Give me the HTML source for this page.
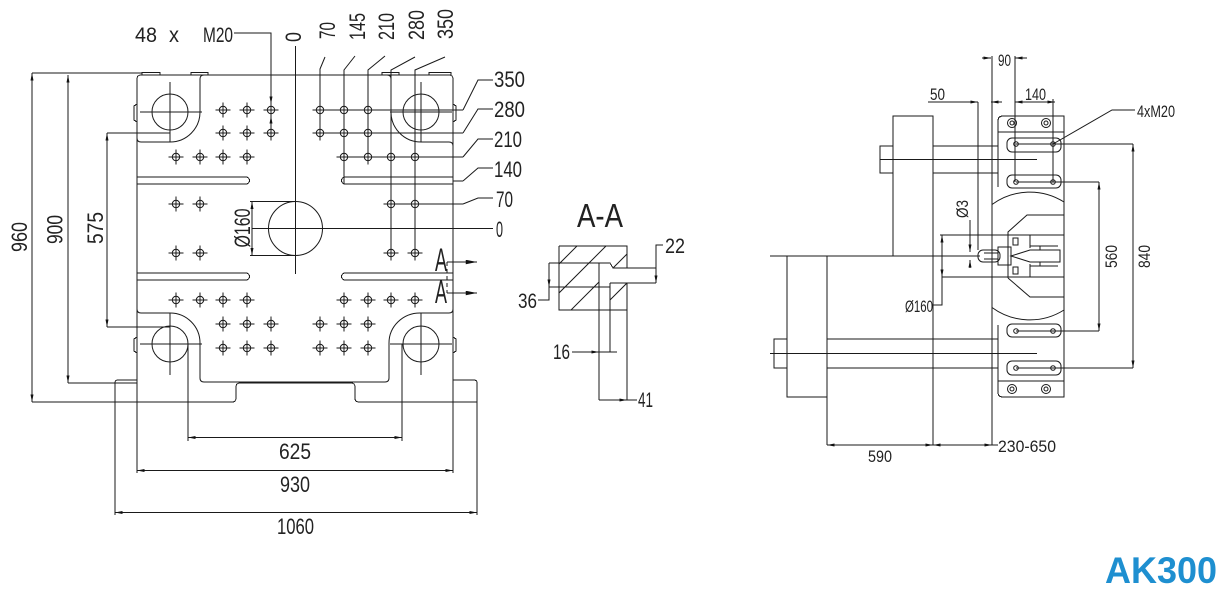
<!DOCTYPE html>
<html><head><meta charset="utf-8">
<style>
html,body{margin:0;padding:0;background:#fff;}
svg{display:block;}
text{font-family:"Liberation Sans",sans-serif;fill:#222;}
.cr path,.cr rect{shape-rendering:crispEdges;}
</style></head>
<body>
<svg width="1227" height="596" viewBox="0 0 1227 596" xmlns="http://www.w3.org/2000/svg">
<defs>
<marker id="m" viewBox="0 0 10 4" refX="10" refY="2" markerWidth="8" markerHeight="3" markerUnits="userSpaceOnUse" orient="auto-start-reverse"><path d="M0,0L10,2L0,4z" fill="#111" stroke="none"/></marker>
<marker id="M" viewBox="0 0 10 4" refX="10" refY="2" markerWidth="14" markerHeight="4.5" markerUnits="userSpaceOnUse" orient="auto"><path d="M0,0L10,2L0,4z" fill="#111" stroke="none"/></marker>
<g id="h"><circle r="3.7"/><path d="M-7.5,0H7.5M0,-7.5V7.5"/></g>
<clipPath id="hc"><path d="M559,246H627V268H613L610,263H599V310H559Z M610,283H627V310H610Z"/></clipPath>
</defs>
<rect width="1227" height="596" fill="#fff"/>

<g fill="none" stroke="#1a1a1a" stroke-width="1" class="cr">
<!-- ===== LEFT VIEW ===== -->
<path d="M137,473V79Q137,75 141,75H449Q453,75 453,79V473"/>
<path d="M32,73H142"/>
<path d="M142,75V72.5H160V75M191,75V72.5H208V75M382,75V72.5H399V75M429,75V72.5H451V75"/>
<path d="M137,138Q137,142 141,142H170A30,30 0 0 0 200,112V79Q200,75 204,75" style="shape-rendering:auto"/>
<path d="M387,75Q391,75 391,79V112A30,30 0 0 0 421,142H449Q453,142 453,146" style="shape-rendering:auto"/>
<path d="M137,309Q137,313 141,313H170A30,30 0 0 1 200,343V378Q200,382 204,382H385Q389,382 389,378V343A31,30 0 0 1 420,313H449Q453,313 453,309" style="shape-rendering:auto"/>
<path d="M137,104L134,106V120L137,122M137,337L134,339V351L137,353M453,104L456,106V120L453,122M453,337L456,339V351L453,353"/>
<path d="M137,177H246A3.5,3.5 0 0 1 246,184H137"/>
<path d="M453,177H345A3.5,3.5 0 0 0 345,184H453"/>
<path d="M137,273H246A3.5,3.5 0 0 1 246,280H137"/>
<path d="M453,273H345A3.5,3.5 0 0 0 345,280H453"/>
<circle cx="170" cy="112" r="18"/><circle cx="421" cy="112" r="18"/>
<circle cx="170" cy="344" r="18"/><circle cx="421" cy="344" r="18"/>
<path d="M140,112H202M170,82V142M390,112H452M421,82V142M140,344H202M170,313V375M390,344H452M421,313V375"/>
<path d="M188,344V441M402,344V441"/>
<circle cx="295.5" cy="228.5" r="27"/>
<path d="M295.5,46V274M252,228.5H493"/>
<path d="M252,201.5V255.5" marker-start="url(#m)" marker-end="url(#m)"/>
<path d="M250,201.5H295M250,255.5H295"/>
<path d="M320,110H463M320,133H463M344,157H463M391,204H463M325,57L320,69V140M355,56L344,70V184M385,56L368,70V157M415,57L391,70V253M445,57L415,70V253M453,181H463" style="shape-rendering:auto"/>
<path d="M463,110L478,80H493M463,133L478,109H493M463,157L478,139H493M463,181L478,168H493M463,204L478,198H493" style="shape-rendering:auto"/>
<path d="M234,33H271V104" marker-end="url(#m)"/>
<path d="M271,133V116" marker-end="url(#m)"/>
<path d="M32,73V402" marker-start="url(#m)" marker-end="url(#m)"/>
<path d="M68,75V383" marker-start="url(#m)" marker-end="url(#m)"/>
<path d="M107,133V327" marker-start="url(#m)" marker-end="url(#m)"/>
<path d="M68,383H137M107,133H170M107,327H170"/>
<path d="M32,402H232Q236,402 236,398V387Q236,383 240,383H351Q355,383 355,387V398Q355,402 359,402H477"/>
<path d="M115,515V383Q115,380 118,380H137"/>
<path d="M453,380H474Q477,380 477,383V515"/>
<path d="M188,437.5H402" marker-start="url(#m)" marker-end="url(#m)"/>
<path d="M137,470.5H453" marker-start="url(#m)" marker-end="url(#m)"/>
<path d="M115,512.5H477" marker-start="url(#m)" marker-end="url(#m)"/>
<path d="M447,262H477" marker-end="url(#M)"/>
<path d="M447,293H477" marker-end="url(#M)"/>
<path d="M447,262V293" stroke-dasharray="4,3"/>

<use href="#h" x="223" y="110"/><use href="#h" x="247" y="110"/><use href="#h" x="271" y="110"/>
<use href="#h" x="320" y="110"/><use href="#h" x="344" y="110"/><use href="#h" x="368" y="110"/>
<use href="#h" x="223" y="133"/><use href="#h" x="247" y="133"/><use href="#h" x="271" y="133"/>
<use href="#h" x="320" y="133"/><use href="#h" x="344" y="133"/><use href="#h" x="368" y="133"/>
<use href="#h" x="176" y="157"/><use href="#h" x="200" y="157"/><use href="#h" x="223" y="157"/><use href="#h" x="247" y="157"/>
<use href="#h" x="344" y="157"/><use href="#h" x="368" y="157"/><use href="#h" x="391" y="157"/><use href="#h" x="415" y="157"/>
<use href="#h" x="176" y="204"/><use href="#h" x="200" y="204"/><use href="#h" x="391" y="204"/><use href="#h" x="415" y="204"/>
<use href="#h" x="176" y="253"/><use href="#h" x="200" y="253"/><use href="#h" x="391" y="253"/><use href="#h" x="415" y="253"/>
<use href="#h" x="176" y="300"/><use href="#h" x="200" y="300"/><use href="#h" x="223" y="300"/><use href="#h" x="247" y="300"/>
<use href="#h" x="344" y="300"/><use href="#h" x="368" y="300"/><use href="#h" x="391" y="300"/><use href="#h" x="415" y="300"/>
<use href="#h" x="223" y="324"/><use href="#h" x="247" y="324"/><use href="#h" x="271" y="324"/>
<use href="#h" x="320" y="324"/><use href="#h" x="344" y="324"/><use href="#h" x="368" y="324"/>
<use href="#h" x="223" y="348"/><use href="#h" x="247" y="348"/><use href="#h" x="271" y="348"/>
<use href="#h" x="320" y="348"/><use href="#h" x="344" y="348"/><use href="#h" x="368" y="348"/>

<!-- ===== A-A SECTION ===== -->
<path d="M559,246H627V268M627,283V400M559,246V310H627"/>
<path d="M549,263H610L613,268H656"/>
<path d="M610,283H656M610,283V352M599,263V400M549,287H610"/>
<path d="M549,263V300H538"/>
<path d="M549,276V287" marker-end="url(#m)"/>
<path d="M663,245H656V283" marker-end="url(#m)"/>
<path d="M572,352H599" marker-end="url(#m)"/>
<path d="M599,352H617"/>
<path d="M599,400H627" marker-end="url(#m)"/>
<path d="M627,400H637"/>
<g clip-path="url(#hc)">
<path d="M540,283L640,183M540,312L640,212M540,341L640,241M540,370L640,270" style="shape-rendering:auto"/>
</g>

<!-- ===== RIGHT VIEW ===== -->
<rect x="893" y="116" width="40" height="140"/>
<rect x="880" y="146" width="13" height="27"/>
<path d="M933,146H998M933,173H998M880,159.5H1037"/>
<rect x="787" y="256" width="40" height="141"/>
<rect x="774" y="339" width="13" height="29"/>
<path d="M827,339H998M827,368H998M770,353.5H1037M770,256H980"/>
<path d="M933,256V445M827,397V445M992,56V445M978,102V250"/>
<path d="M998,121V187M998,325V392"/>
<path d="M998,121Q998,116 1003,116H1064V397H1003Q998,397 998,392"/>
<path d="M998,132H1064M998,381H1064"/>
<circle cx="1012" cy="123" r="4.5"/><circle cx="1012" cy="123" r="2"/>
<circle cx="1046" cy="123" r="4.5"/><circle cx="1046" cy="123" r="2"/>
<circle cx="1012" cy="389" r="4.5"/><circle cx="1012" cy="389" r="2"/>
<circle cx="1046" cy="389" r="4.5"/><circle cx="1046" cy="389" r="2"/>
<rect x="1007" y="138" width="54" height="14" rx="5" style="shape-rendering:auto"/>
<rect x="1007" y="175" width="54" height="13" rx="5" style="shape-rendering:auto"/>
<rect x="1007" y="324" width="54" height="13" rx="5" style="shape-rendering:auto"/>
<rect x="1007" y="361" width="54" height="14" rx="5" style="shape-rendering:auto"/>
<circle cx="1016" cy="144" r="2.3"/><circle cx="1053" cy="144" r="2.3"/>
<circle cx="1016" cy="182" r="2.3"/><circle cx="1053" cy="182" r="2.3"/>
<circle cx="1016" cy="331" r="2.3"/><circle cx="1053" cy="331" r="2.3"/>
<circle cx="1016" cy="368" r="2.3"/><circle cx="1053" cy="368" r="2.3"/>
<path d="M1016,144H1133M1016,182H1099M1016,331H1099M1016,368H1133M1015,56V182M1053,99V182"/>
<path d="M992,204.5A64,64 0 0 1 1064,202M992,307.5A64,64 0 0 0 1064,310" style="shape-rendering:auto"/>
<!-- nozzle / sprue -->
<path d="M1008,278V232L1027,215H1064M1008,278L1030,297H1064" style="shape-rendering:auto"/>
<path d="M1008,235H1064M1008,277H1064"/>
<path d="M1030,235V248M1030,264V277"/>
<rect x="1013" y="238" width="5" height="7"/><rect x="1013" y="267" width="5" height="7"/>
<rect x="978" y="250" width="22" height="12" rx="5" style="shape-rendering:auto"/>
<path d="M984,253H998M984,259H998"/>
<rect x="998" y="247" width="13" height="18"/>
<path d="M1011,256L1030,250H1060V262H1030Z" style="shape-rendering:auto"/>
<path d="M1030,246H1058M1030,266H1058M1040,246V250M1040,262V266"/>
<!-- dims -->
<path d="M982,58H991" marker-end="url(#m)"/>
<path d="M1027,58H1015" marker-end="url(#m)"/>
<path d="M928,102H978" marker-end="url(#m)"/>
<path d="M1002,102H991" marker-end="url(#m)"/>
<path d="M1015,102H1055" marker-start="url(#m)" marker-end="url(#m)"/>
<path d="M1133,144V368" marker-start="url(#m)" marker-end="url(#m)"/>
<path d="M1099,182V331" marker-start="url(#m)" marker-end="url(#m)"/>
<path d="M1053,144L1112,110H1135" style="shape-rendering:auto"/>
<path d="M970,220V252" marker-end="url(#m)"/>
<path d="M970,268V260" marker-end="url(#m)"/>
<path d="M940,235H1008M942,277H1008"/>
<path d="M942,235V277" marker-start="url(#m)" marker-end="url(#m)"/>
<path d="M942,277V305H933"/>
<path d="M827,445H933" marker-start="url(#m)" marker-end="url(#m)"/>
<path d="M933,445H992" marker-start="url(#m)" marker-end="url(#m)"/>
<path d="M992,445H998"/>
</g>

<!-- ===== TEXT ===== -->
<g font-size="22">
<text transform="translate(301,37) rotate(-90)" text-anchor="middle" textLength="10" lengthAdjust="spacingAndGlyphs">0</text>
<text transform="translate(335,30.5) rotate(-90)" text-anchor="middle" textLength="17" lengthAdjust="spacingAndGlyphs">70</text>
<text transform="translate(365,26.5) rotate(-90)" text-anchor="middle" textLength="27" lengthAdjust="spacingAndGlyphs">145</text>
<text transform="translate(394,26.5) rotate(-90)" text-anchor="middle" textLength="27" lengthAdjust="spacingAndGlyphs">210</text>
<text transform="translate(424,25) rotate(-90)" text-anchor="middle" textLength="30" lengthAdjust="spacingAndGlyphs">280</text>
<text transform="translate(453,24) rotate(-90)" text-anchor="middle" textLength="30" lengthAdjust="spacingAndGlyphs">350</text>

<text x="494" y="87" textLength="31" lengthAdjust="spacingAndGlyphs">350</text>
<text x="494" y="117" textLength="31" lengthAdjust="spacingAndGlyphs">280</text>
<text x="494" y="147" textLength="28" lengthAdjust="spacingAndGlyphs">210</text>
<text x="494" y="177" textLength="28" lengthAdjust="spacingAndGlyphs">140</text>
<text x="496" y="207" textLength="17" lengthAdjust="spacingAndGlyphs">70</text>
<text x="496" y="237" textLength="7" lengthAdjust="spacingAndGlyphs">0</text>

<text transform="translate(27,237) rotate(-90)" text-anchor="middle" textLength="30" lengthAdjust="spacingAndGlyphs">960</text>
<text transform="translate(62.5,229.5) rotate(-90)" text-anchor="middle" textLength="29" lengthAdjust="spacingAndGlyphs">900</text>
<text transform="translate(103,228) rotate(-90)" text-anchor="middle" textLength="32" lengthAdjust="spacingAndGlyphs">575</text>
<text transform="translate(250,228) rotate(-90)" text-anchor="middle" textLength="39" lengthAdjust="spacingAndGlyphs">Ø160</text>

<text x="295" y="459" text-anchor="middle" textLength="32" lengthAdjust="spacingAndGlyphs">625</text>
<text x="295" y="492" text-anchor="middle" textLength="30" lengthAdjust="spacingAndGlyphs">930</text>
<text x="295.5" y="534" text-anchor="middle" textLength="37" lengthAdjust="spacingAndGlyphs">1060</text>
</g>

<g font-size="21">
<text x="135" y="42" textLength="22" lengthAdjust="spacingAndGlyphs">48</text>
<text x="169" y="42" textLength="10" lengthAdjust="spacingAndGlyphs">x</text>
<text x="203" y="42" textLength="30" lengthAdjust="spacingAndGlyphs">M20</text>
<text x="665" y="253" textLength="20" lengthAdjust="spacingAndGlyphs">22</text>
<text x="518" y="308" textLength="19" lengthAdjust="spacingAndGlyphs">36</text>
<text x="553" y="359" textLength="17" lengthAdjust="spacingAndGlyphs">16</text>
<text x="638" y="407" textLength="15" lengthAdjust="spacingAndGlyphs">41</text>
</g>

<text x="600" y="227" font-size="33" text-anchor="middle" textLength="46" lengthAdjust="spacingAndGlyphs">A-A</text>
<text x="435" y="271" font-size="32" textLength="12" lengthAdjust="spacingAndGlyphs">A</text>
<text x="435" y="303" font-size="32" textLength="12" lengthAdjust="spacingAndGlyphs">A</text>

<g font-size="17">
<text x="998" y="66" textLength="13" lengthAdjust="spacingAndGlyphs">90</text>
<text x="930" y="100" textLength="15" lengthAdjust="spacingAndGlyphs">50</text>
<text x="1025" y="100" textLength="21" lengthAdjust="spacingAndGlyphs">140</text>
<text x="1137" y="117" textLength="38" lengthAdjust="spacingAndGlyphs">4xM20</text>
<text transform="translate(968,209) rotate(-90)" text-anchor="middle" textLength="18" lengthAdjust="spacingAndGlyphs">Ø3</text>
<text transform="translate(1117,256.5) rotate(-90)" text-anchor="middle" textLength="23" lengthAdjust="spacingAndGlyphs">560</text>
<text transform="translate(1150,256.5) rotate(-90)" text-anchor="middle" textLength="23" lengthAdjust="spacingAndGlyphs">840</text>
<text x="905" y="312" textLength="28" lengthAdjust="spacingAndGlyphs">Ø160</text>
<text x="868" y="462" textLength="24" lengthAdjust="spacingAndGlyphs">590</text>
<text x="998" y="452" textLength="58" lengthAdjust="spacingAndGlyphs">230-650</text>
</g>

<text x="1105" y="583" font-size="37" font-weight="bold" style="fill:#1e8fd0" textLength="112" lengthAdjust="spacingAndGlyphs">AK300</text>
</svg>
</body></html>
